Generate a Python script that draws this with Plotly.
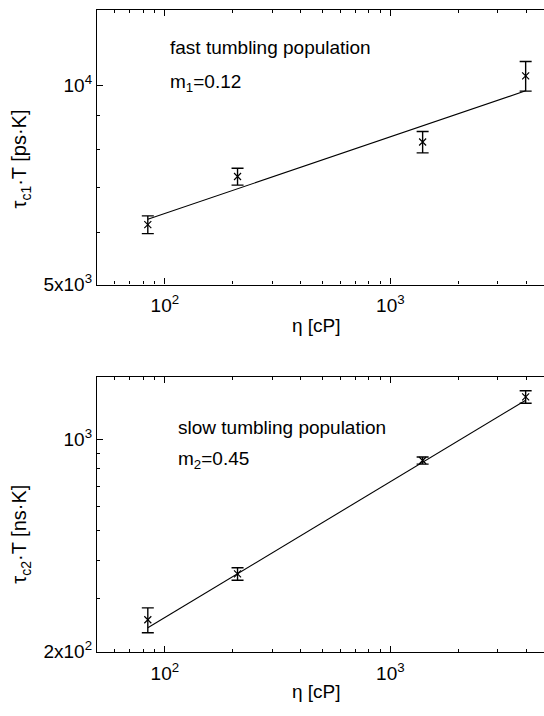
import plotly.graph_objects as go
import math

W, H = 544, 716

# ---- data ----
eta = [84, 210, 1390, 3980]                 # viscosity [cP]
tau1T = [6160, 7280, 8210, 10330]           # tau_c1*T [ps K]
tau1T_err = [190, 215, 305, 530]
fit1_x = [84, 3980]
fit1_y = [6275, 9810]

tau2T = [255, 361, 851, 1378]               # tau_c2*T [ns K]
tau2T_err = [24, 17, 23, 65]
fit2_x = [84, 3980]
fit2_y = [240, 1343]

x_major = [100, 1000]
x_major_text = ["10<sup>2</sup>", "10<sup>3</sup>"]
x_minor = [60, 70, 80, 90, 200, 300, 400, 500, 600, 700, 800, 900, 2000, 3000, 4000]
y1_major = [5000, 10000]
y1_major_text = ["5x10<sup>3</sup>", "10<sup>4</sup>"]
y1_minor = [6000, 7000, 8000, 9000]
y2_major = [200, 1000]
y2_major_text = ["2x10<sup>2</sup>", "10<sup>3</sup>"]
y2_minor = [300, 400, 500, 600, 700, 800, 900]

FONT = "Liberation Sans, Arial, Helvetica, sans-serif"
FS = 19

def px(x):
    return x / W

def py(y):
    return 1 - y / H

fig = go.Figure()

# top panel
fig.add_trace(go.Scatter(x=fit1_x, y=fit1_y, mode="lines",
                         line=dict(color="black", width=1.1),
                         xaxis="x", yaxis="y", showlegend=False))
fig.add_trace(go.Scatter(x=eta, y=tau1T, mode="markers",
                         marker=dict(symbol="x-thin", size=7, color="black",
                                     line=dict(color="black", width=1.2)),
                         error_y=dict(type="data", array=tau1T_err, visible=True,
                                      color="black", thickness=1.4, width=6),
                         xaxis="x", yaxis="y", showlegend=False))
# bottom panel
fig.add_trace(go.Scatter(x=fit2_x, y=fit2_y, mode="lines",
                         line=dict(color="black", width=1.1),
                         xaxis="x2", yaxis="y2", showlegend=False))
fig.add_trace(go.Scatter(x=eta, y=tau2T, mode="markers",
                         marker=dict(symbol="x-thin", size=7, color="black",
                                     line=dict(color="black", width=1.2)),
                         error_y=dict(type="data", array=tau2T_err, visible=True,
                                      color="black", thickness=1.4, width=6),
                         xaxis="x2", yaxis="y2", showlegend=False))

xr = [math.log10(50), math.log10(4800)]

def xaxis_cfg(anchor):
    return dict(type="log", range=xr, domain=[px(97), 1.0], anchor=anchor,
                showgrid=False, zeroline=False, showline=True, linecolor="black",
                linewidth=1.2, mirror="ticks", ticks="inside", ticklen=6,
                tickcolor="black", tickwidth=1, ticklabelstandoff=4,
                tickvals=x_major, ticktext=x_major_text,
                tickfont=dict(family=FONT, size=FS, color="black"),
                minor=dict(tickvals=x_minor, ticks="inside", ticklen=3,
                           tickcolor="black", tickwidth=1, showgrid=False))

def yaxis_cfg(anchor, rng, dom, major, major_text, minor):
    return dict(type="log", range=rng, domain=dom, anchor=anchor,
                showgrid=False, zeroline=False, showline=True, linecolor="black",
                linewidth=1.2, mirror=False, ticks="inside", ticklen=6,
                tickcolor="black", tickwidth=1,
                tickvals=major, ticktext=major_text,
                tickfont=dict(family=FONT, size=FS, color="black"),
                minor=dict(tickvals=minor, ticks="inside", ticklen=3,
                           tickcolor="black", tickwidth=1, showgrid=False))

annotations = [
    dict(text="fast tumbling population", x=px(168), y=py(48)),
    dict(text="m<sub>1</sub>=0.12", x=px(168), y=py(84)),
    dict(text="slow tumbling population", x=px(176), y=py(434)),
    dict(text="m<sub>2</sub>=0.45", x=px(176), y=py(467)),
]
for a in annotations:
    a.update(xref="paper", yref="paper", xanchor="left", yanchor="middle",
             showarrow=False, font=dict(family=FONT, size=FS, color="black"))

for yy in (331, 702):
    annotations.append(dict(text="η [cP]", x=px(316), y=py(yy), xref="paper", yref="paper",
                            xanchor="center", yanchor="middle", showarrow=False,
                            font=dict(family=FONT, size=FS, color="black")))
annotations.append(dict(text="τ<sub>c1</sub>·T [ps·K]", x=px(21), y=py(162), xref="paper",
                        yref="paper", xanchor="center", yanchor="middle", textangle=-90,
                        showarrow=False, font=dict(family=FONT, size=FS + 1, color="black")))
annotations.append(dict(text="τ<sub>c2</sub>·T [ns·K]", x=px(21), y=py(543), xref="paper",
                        yref="paper", xanchor="center", yanchor="middle", textangle=-90,
                        showarrow=False, font=dict(family=FONT, size=FS + 1, color="black")))

fig.update_layout(
    width=W, height=H,
    margin=dict(l=0, r=0, t=0, b=0),
    paper_bgcolor="white", plot_bgcolor="white",
    xaxis=xaxis_cfg("y"),
    yaxis=yaxis_cfg("x", [math.log10(5000), math.log10(13000)], [py(289), py(10)],
                    y1_major, y1_major_text, y1_minor),
    xaxis2=xaxis_cfg("y2"),
    yaxis2=yaxis_cfg("x2", [math.log10(200), math.log10(1600)], [py(662), py(383)],
                     y2_major, y2_major_text, y2_minor),
    annotations=annotations,
    showlegend=False,
)

fig.write_html("out.html")
